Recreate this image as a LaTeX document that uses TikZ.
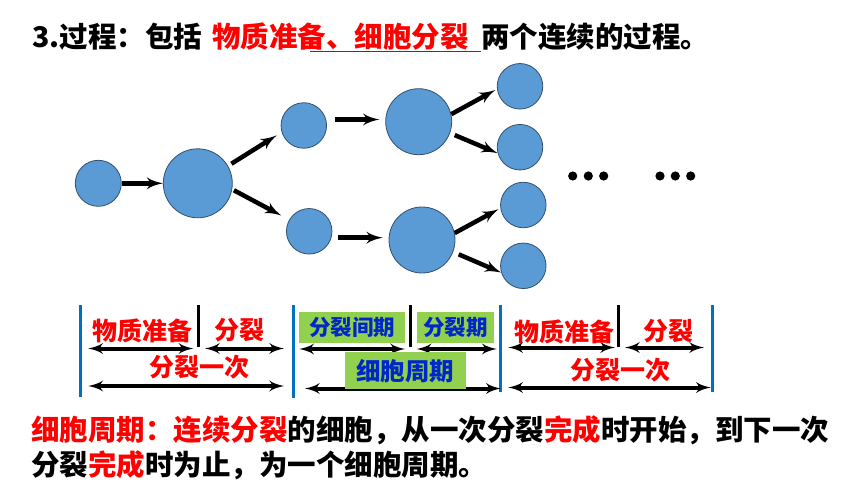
\documentclass[tikz,border=0pt]{standalone}
\usepackage{fontspec}
\setmainfont{Noto Sans CJK SC}
\usetikzlibrary{arrows}
\definecolor{cellblue}{RGB}{91,155,213}
\definecolor{celledge}{RGB}{50,80,110}
\definecolor{barblue}{RGB}{0,112,192}
\definecolor{boxgreen}{RGB}{146,208,80}
\definecolor{labelblue}{RGB}{0,40,200}
\tikzset{cell/.style = {draw = celledge, fill = cellblue, circle, inner sep = 0, line width = 0.8}}
\tikzset{splitarrow/.style = {-latex', line width = 4.5}}
\tikzset{spanarrow/.style = {latex'-latex', line width = 4}}
\tikzset{bluebar/.style = {draw = barblue, line width = 3.5}}
\tikzset{redlab/.style = {text = red, inner sep = 0, font = \fontsize{25}{30}\selectfont\bfseries}}
\tikzset{greenbox/.style = {fill = boxgreen, text = labelblue, inner sep = 0, font = \fontsize{21.5}{26}\selectfont\bfseries}}
\tikzset{bigtext/.style = {anchor = base west, inner sep = 0, font = \fontsize{28.5}{34}\selectfont\bfseries}}
\begin{document}
\begin{tikzpicture}[x = 1pt, y = -1pt]
      \useasboundingbox (0, 0) rectangle (860, 484);
      \node [bigtext] (t1) at (32, 48) {3.过程：包括};
      \node [bigtext, text = red] (t2) at (212, 48) {物质准备、细胞分裂};
      \node [bigtext] (t3) at (481, 48) {两个连续的过程。};
      \draw [line width = 1.5, black!75] (310, 51.5) -- (481, 51.5);

      \node [cell, minimum size = 46] (c1) at (98.3, 183.3) {};
      \node [cell, minimum size = 69] (c2) at (197.8, 183.3) {};
      \node [cell, minimum size = 45.5] (c3) at (303.8, 125.5) {};
      \node [cell, minimum size = 45.5] (c4) at (309.2, 231.3) {};
      \node [cell, minimum size = 66] (c5) at (418.7, 121.7) {};
      \node [cell, minimum size = 66] (c6) at (422, 240) {};
      \node [cell, minimum size = 45.5] (l1) at (520, 86.3) {};
      \node [cell, minimum size = 45.5] (l2) at (520, 147.2) {};
      \node [cell, minimum size = 45.5] (l3) at (523.3, 205) {};
      \node [cell, minimum size = 45.5] (l4) at (523.3, 265.8) {};
      \draw [splitarrow] (c1) -- (c2);
      \draw [splitarrow, shorten <= 4, shorten >= 6] (c2.30) -- (c3.197);
      \draw [splitarrow, shorten <= 2, shorten >= 9] (c2.-10) -- (c4.150);
      \draw [splitarrow, shorten <= 9, shorten >= 6] (c3.15) -- (c3.15 -| c5.west);
      \draw [splitarrow, shorten <= 7, shorten >= 6] (c4.-16) -- (c4.-16 -| c6.west);
      \draw [splitarrow, shorten >= 2] (c5.13) -- (l1.187);
      \draw [splitarrow, shorten <= 5] (c5.-20) -- (l2.195);
      \draw [splitarrow, shorten >= 2] (c6.12) -- (l3.188);
      \draw [splitarrow, shorten <= 6] (c6.-21) -- (l4.197);
      \foreach \x in {572.7, 588.3, 603.7, 660, 675.3, 690.7}
        \fill (\x, 176) circle [radius = 4.6];

      \foreach \x/\y in {80.7/397, 293.3/398, 500.5/392, 712.3/392}
        \draw [bluebar] (\x, 305) -- (\x, \y);
      \foreach \x in {198.3, 410, 618.3}
        \draw [line width = 3] (\x, 305) -- (\x, 347);
      \foreach \a/\b/\y [count = \i] in {88.3/193.3/348.5, 205/284/348.5, 299.3/405/349, 416.7/496.7/349,
          508.3/615/347.5, 625/704/347.5, 88.3/284/386, 305/500.7/388.5, 508.3/710.7/387.5} {
        \coordinate (s\i) at (\a, \y);
        \coordinate (e\i) at (\b, \y);
        \draw [spanarrow] (s\i) -- (e\i);
      }
      \node [redlab] (prep1) at (142.5, 330.5) {物质准备};
      \node [redlab] (div1) at (239, 330.5) {分裂};
      \node [redlab] (once1) at (199, 367.5) {分裂一次};
      \node [redlab] (prep2) at (564.7, 331.5) {物质准备};
      \node [redlab] (div2) at (668.8, 331.5) {分裂};
      \node [redlab] (once2) at (620, 370) {分裂一次};
      \node [greenbox, minimum width = 105.7, minimum height = 31.6] (inter) at (352.2, 327.5) {分裂间期};
      \node [greenbox, minimum width = 77.3, minimum height = 31.6] (mphase) at (455.3, 327.5) {分裂期};
      \node [greenbox, minimum width = 121, minimum height = 37, font = \fontsize{24.5}{29}\selectfont\bfseries] (cycle) at (405, 370.7) {细胞周期};

      \node [bigtext] (d1) at (31, 440) {\textcolor{red}{细胞周期：连续分裂}的细胞，从一次分裂\textcolor{red}{完成}时开始，到下一次};
      \node [bigtext] (d2) at (31, 475) {分裂\textcolor{red}{完成}时为止，为一个细胞周期。};
    \end{tikzpicture}
\end{document}
